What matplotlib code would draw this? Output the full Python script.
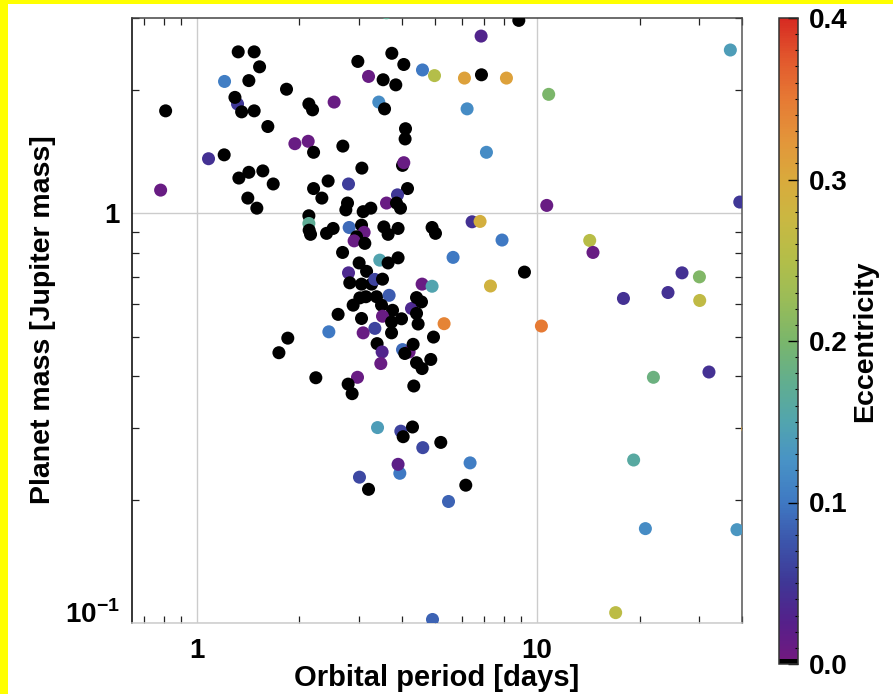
import matplotlib
matplotlib.use("Agg")
import matplotlib.pyplot as plt
import numpy as np
from matplotlib.colors import LinearSegmentedColormap, ListedColormap
from matplotlib.ticker import FixedLocator, FuncFormatter, LogLocator, MultipleLocator, NullFormatter
from matplotlib.patches import Rectangle

plt.rcParams['font.family'] = ['Liberation Sans', 'DejaVu Sans']
plt.rcParams['font.weight'] = 'bold'
plt.rcParams['mathtext.fontset'] = 'custom'
plt.rcParams['mathtext.rm'] = 'Liberation Sans:bold'
plt.rcParams['mathtext.bf'] = 'Liberation Sans:bold'

# orbital period [days], planet mass [Mjup], eccentricity (0 = circular -> black)
period = [1.325, 1.476, 1.531, 1.208, 1.424, 1.837, 1.319, 1.296, 1.356, 1.476,
          2.137, 2.191, 0.811, 1.619, 1.944, 2.127, 2.206, 1.205, 1.084, 1.424,
          1.565, 1.331, 1.679, 2.434, 2.206, 2.333, 1.414, 1.503, 0.784, 2.137,
          3.61, 8.84, 6.85, 3.745, 2.976, 4.061, 4.608, 4.998, 3.199, 3.531,
          3.847, 6.121, 6.867, 8.131, 2.535, 3.429, 3.565, 6.231, 4.108, 4.097,
          2.689, 7.102, 4.026, 4.061, 3.058, 2.794, 4.164, 3.891, 2.775, 2.744,
          3.613, 3.865, 3.971, 3.085, 3.249, 2.137, 2.141, 2.161, 2.408, 2.518,
          2.806, 3.051, 3.105, 2.950, 2.902, 3.120, 3.548, 3.652, 3.907, 4.917,
          5.031, 2.684, 3.452, 3.652, 3.907, 5.667, 3.002, 3.157, 2.794, 2.818,
          3.051, 3.265, 3.339, 3.516, 4.596, 4.917, 3.016, 2.883, 3.142, 3.377,
          3.677, 3.493, 3.763, 4.278, 4.426, 4.577, 4.426, 4.474, 2.604, 3.051,
          3.516, 3.999, 3.738, 3.738, 3.339, 3.085, 2.446, 5.333, 4.964, 1.853,
          1.745, 3.390, 4.026, 4.209, 4.325, 4.089, 3.507, 3.476, 4.426, 4.874,
          4.596, 2.240, 2.969, 2.787, 2.863, 4.345, 3.400, 3.980, 4.307, 4.043,
          4.617, 5.215, 6.358, 3.953, 3.907, 3.009, 3.199, 6.176, 5.495, 4.931,
          36.97, 10.82, 10.68, 39.4, 6.445, 6.802, 7.892, 9.184, 7.298, 14.28,
          14.60, 26.66, 29.99, 24.25, 17.94, 30.05, 10.30, 21.97, 31.99, 41.6,
          19.22, 20.81, 38.66, 17.02]
mass = [2.48, 2.48, 2.28, 2.10, 2.11, 2.01, 1.85, 1.92, 1.77, 1.78,
        1.85, 1.79, 1.78, 1.63, 1.48, 1.50, 1.41, 1.39, 1.36, 1.26,
        1.27, 1.22, 1.18, 1.20, 1.15, 1.09, 1.09, 1.03, 1.14, 0.987,
        3.09, 2.96, 2.71, 2.46, 2.35, 2.31, 2.24, 2.17, 2.16, 2.12,
        2.06, 2.14, 2.18, 2.14, 1.87, 1.87, 1.80, 1.80, 1.61, 1.52,
        1.46, 1.41, 1.31, 1.33, 1.29, 1.18, 1.15, 1.11, 1.06, 1.02,
        1.06, 1.06, 1.03, 1.01, 1.03, 0.945, 0.910, 0.889, 0.894, 0.919,
        0.924, 0.936, 0.899, 0.877, 0.857, 0.845, 0.927, 0.889, 0.919, 0.924,
        0.894, 0.803, 0.769, 0.757, 0.779, 0.781, 0.757, 0.722, 0.716, 0.677,
        0.672, 0.672, 0.690, 0.691, 0.672, 0.664, 0.622, 0.597, 0.626, 0.626,
        0.631, 0.597, 0.580, 0.586, 0.623, 0.608, 0.570, 0.537, 0.567, 0.554,
        0.561, 0.553, 0.543, 0.511, 0.524, 0.511, 0.514, 0.538, 0.499, 0.496,
        0.457, 0.481, 0.465, 0.459, 0.479, 0.455, 0.459, 0.430, 0.432, 0.440,
        0.418, 0.397, 0.398, 0.383, 0.363, 0.379, 0.300, 0.294, 0.301, 0.285,
        0.268, 0.276, 0.246, 0.232, 0.244, 0.227, 0.212, 0.217, 0.198, 0.102,
        2.506, 1.953, 1.046, 1.066, 0.954, 0.956, 0.861, 0.719, 0.665, 0.859,
        0.803, 0.716, 0.700, 0.641, 0.620, 0.613, 0.531, 0.398, 0.410, 0.298,
        0.250, 0.170, 0.169, 0.106]
ecc = [0, 0, 0, 0.105, 0, 0, 0.05, 0, 0, 0,
       0, 0, 0, 0, 0.01, 0.01, 0, 0, 0.045, 0,
       0, 0, 0, 0, 0, 0, 0, 0, 0.01, 0,
       0.17, 0, 0.03, 0, 0, 0, 0.10, 0.25, 0.01, 0,
       0, 0.31, 0, 0.31, 0.01, 0.12, 0, 0.12, 0, 0,
       0, 0.12, 0, 0.01, 0, 0.055, 0, 0.05, 0, 0,
       0.01, 0, 0, 0, 0, 0.17, 0, 0, 0, 0,
       0.09, 0, 0.01, 0, 0.01, 0, 0, 0, 0, 0,
       0, 0, 0.15, 0, 0, 0.10, 0, 0, 0.035, 0,
       0, 0, 0.06, 0, 0.01, 0.15, 0, 0, 0, 0,
       0.08, 0, 0, 0.035, 0, 0, 0, 0, 0, 0,
       0.01, 0, 0, 0, 0.06, 0.01, 0.10, 0.34, 0, 0,
       0, 0, 0.09, 0.01, 0, 0, 0.03, 0.01, 0, 0,
       0, 0, 0.01, 0, 0, 0, 0.14, 0.06, 0, 0,
       0.065, 0, 0.105, 0.10, 0.02, 0.065, 0, 0, 0.085, 0.085,
       0.14, 0.20, 0.01, 0.05, 0.045, 0.29, 0.10, 0, 0.285, 0.255,
       0.01, 0.045, 0.205, 0.045, 0.045, 0.265, 0.35, 0.185, 0.045, 0.31,
       0.16, 0.12, 0.13, 0.26]

# colour table
cb_levels = [0.0, 0.025, 0.05, 0.075, 0.10, 0.125, 0.15, 0.175, 0.20,
             0.225, 0.25, 0.275, 0.30, 0.325, 0.35, 0.375, 0.40]
cb_colors = ['#74197f', '#55208a', '#3f3796', '#3c55ab', '#3f79c3', '#4892c6',
             '#52a5ae', '#62ae8e', '#7ab66b', '#99bc58', '#b3be49', '#c9b842',
             '#d9aa3c', '#e3953a', '#e67a34', '#e2582d', '#d72b22']

base = LinearSegmentedColormap.from_list(
    'ecc', list(zip(np.array(cb_levels) / 0.4, cb_colors)), N=256)
lut = base(np.linspace(0, 1, 256))
lut[:2] = [0, 0, 0, 1]
cmap = ListedColormap(lut)

fig = plt.figure(figsize=(8.93, 6.94), dpi=100)
fig.patch.set_facecolor('#ffff00')
fig.patches.append(Rectangle((8 / 893, 0), 1, 1 - 3.5 / 694, transform=fig.transFigure,
                             facecolor='white', edgecolor='none', zorder=-10))

ax = fig.add_axes([132 / 893, 1 - 623 / 694, 610 / 893, 605 / 694])
ax.set_xscale('log')
ax.set_yscale('log')
ax.set_xlim(0.646, 40)
ax.set_ylim(0.1, 3.0)

sc = ax.scatter(period, mass, c=ecc, cmap=cmap, vmin=0, vmax=0.4,
                s=88, linewidths=0, zorder=3)

ax.set_axisbelow(True)
ax.xaxis.set_major_locator(FixedLocator([1, 10]))
ax.yaxis.set_major_locator(FixedLocator([0.1, 1]))
ax.xaxis.set_minor_locator(LogLocator(base=10, subs=np.arange(2, 10)))
ax.yaxis.set_minor_locator(LogLocator(base=10, subs=np.arange(2, 10)))
ax.xaxis.set_minor_formatter(NullFormatter())
ax.yaxis.set_minor_formatter(NullFormatter())
ax.xaxis.set_major_formatter(FuncFormatter(lambda v, p: '1' if v < 5 else '10'))
ax.yaxis.set_major_formatter(FuncFormatter(lambda v, p: '1' if v > 0.5 else r'$10^{-1}$'))
ax.grid(which='major', color='#cccccc', lw=1)
ax.tick_params(which='major', length=0, labelsize=20, pad=11)
ax.tick_params(axis='y', which='major', pad=9)
ax.tick_params(which='minor', direction='in', top=True, right=True,
               length=5, width=0.9, color='#222222')
ax.yaxis.get_major_ticks()[0].label1.set_verticalalignment('baseline')

ax.spines['left'].set_color('black')
ax.spines['top'].set_color('#444444')
ax.spines['right'].set_color('#555555')
ax.spines['bottom'].set_color('#cccccc')
for s in ax.spines.values():
    s.set_linewidth(1.1)

fig.text(437 / 893, 1 - 678 / 694, 'Orbital period [days]', ha='center', va='center',
         fontsize=21, fontweight='bold')
fig.text(43 / 893, 1 - 320 / 694, 'Planet mass [Jupiter mass]', ha='center', va='center',
         rotation=90, fontsize=20.5, fontweight='bold')

cax = fig.add_axes([779 / 893, 1 - 664 / 694, 19 / 893, 646 / 694])
cb = fig.colorbar(sc, cax=cax, ticks=[0, 0.1, 0.2, 0.3, 0.4], format='%.1f')
cb.outline.set_edgecolor('#333333')
cb.outline.set_linewidth(1.1)
cax.yaxis.set_minor_locator(MultipleLocator(0.01))
cax.tick_params(which='major', direction='in', length=7, width=1, labelsize=20, pad=8)
cax.tick_params(which='minor', direction='in', length=2.5, width=0.8)
fig.text(865 / 893, 1 - 341 / 694, 'Eccentricity', ha='center', va='center',
         rotation=90, fontsize=20.5, fontweight='bold')

fig.savefig('out.png', dpi=100, facecolor=fig.get_facecolor())
